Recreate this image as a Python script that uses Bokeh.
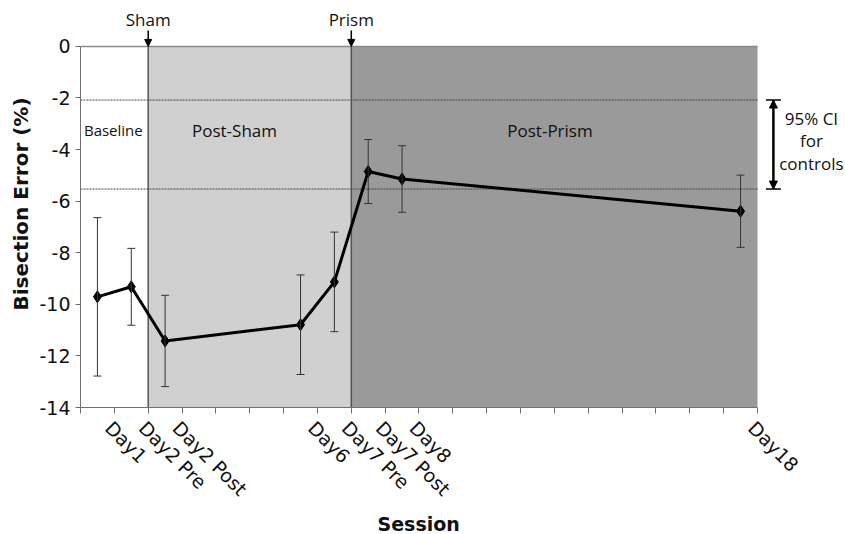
import math
from bokeh.plotting import figure
from bokeh.models import (ColumnDataSource, Whisker, TeeHead, Label, Title,
                          Arrow, NormalHead, FixedTicker, Range1d)
from bokeh.embed import file_html
from bokeh.resources import INLINE

# ---------------- data ----------------
session_labels = ["Day1", "Day2 Pre", "Day2 Post", "Day6", "Day7 Pre", "Day7 Post", "Day8", "Day18"]
session_slots = [0, 1, 2, 6, 7, 8, 9, 19]          # category slot on the session axis
n_slots = 20
bisection_mean = [-9.71, -9.32, -11.42, -10.79, -9.13, -4.85, -5.14, -6.39]
bisection_err = [3.07, 1.49, 1.77, 1.93, 1.93, 1.24, 1.29, 1.40]

phase_names = ["Baseline", "Post-Sham", "Post-Prism"]
phase_start = [0, 2, 8]
phase_end = [2, 8, 20]
intervention_names = ["Sham", "Prism"]
intervention_slot = [2, 8]
control_ci_low = -5.53
control_ci_high = -2.08
ci_text = ["95% CI", "for", "controls"]
y_min, y_max = -14, 0
y_ticks = [-14, -12, -10, -8, -6, -4, -2, 0]

# ---------------- style ----------------
phase_colors = ["#ffffff", "#d0d0d0", "#9a9a9a"]
phase_label_x = [0.97, 4.55, 13.87]
phase_label_size = ["15px", "17px", "17px"]
TICK_FONT = "DejaVu Sans"
ANN_FONT = "Open Sans"
AXIS_GREY = "#707070"
LABEL_SHIFT = 0.33      # rotated tick labels start slightly right of the slot centre

centers = [s + 0.5 for s in session_slots]
label_ticks = [c + LABEL_SHIFT for c in centers]

# frame extends past the data area so that the side/top annotations are not clipped
p = figure(width=845, height=534, x_range=Range1d(0, 22.6), y_range=Range1d(y_min, 1.78),
           output_backend="svg", toolbar_location=None,
           min_border_left=80, min_border_right=0, min_border_top=0, min_border_bottom=126)
p.grid.visible = False
p.outline_line_color = None

# phase backgrounds
p.quad(left=phase_start, right=phase_end, bottom=y_min, top=y_max, fill_color=phase_colors,
       line_color=None, level="image")
# top border of the data area
p.line([phase_start[0], phase_end[-1]], [y_max, y_max], line_color="#8a8a8a", line_width=1.5)

# intervention boundaries
p.segment(x0=intervention_slot, x1=intervention_slot, y0=y_min, y1=y_max,
          line_color="#555555", line_width=1.5)

# control CI dashed lines
p.segment(x0=[phase_start[0]] * 2, x1=[phase_end[-1]] * 2,
          y0=[control_ci_high, control_ci_low], y1=[control_ci_high, control_ci_low],
          line_color="#444444", line_width=1, line_dash="2 1")

# error bars
src = ColumnDataSource(dict(
    x=centers, y=bisection_mean,
    upper=[m + e for m, e in zip(bisection_mean, bisection_err)],
    lower=[m - e for m, e in zip(bisection_mean, bisection_err)],
))
p.add_layout(Whisker(source=src, base="x", upper="upper", lower="lower", dimension="height",
                     line_color="#333333", line_width=1, level="glyph",
                     upper_head=TeeHead(size=8, line_color="#333333", line_width=1),
                     lower_head=TeeHead(size=8, line_color="#333333", line_width=1)))

p.line("x", "y", source=src, line_color="black", line_width=3)
p.scatter("x", "y", source=src, marker="diamond", size=12, fill_color="black", line_color="black")

# x axis: labels at session slots, tick marks at slot boundaries
p.xaxis.bounds = (0, n_slots)
p.xaxis.ticker = FixedTicker(ticks=label_ticks, minor_ticks=list(range(0, n_slots + 1)))
p.xaxis.major_label_overrides = {t: lab for t, lab in zip(label_ticks, session_labels)}
p.xaxis.major_label_orientation = -math.pi / 4
p.xaxis.major_label_text_font = TICK_FONT
p.xaxis.major_label_text_font_size = "19px"
p.xaxis.major_label_text_color = "#111111"
p.xaxis.major_label_standoff = 11
p.xaxis.major_tick_line_color = None
p.xaxis.major_tick_out = 6
p.xaxis.major_tick_in = 0
p.xaxis.minor_tick_out = 6
p.xaxis.minor_tick_in = 0
p.xaxis.minor_tick_line_color = AXIS_GREY
p.xaxis.axis_line_color = AXIS_GREY

# x axis title, placed under the data area
p.add_layout(Title(text="Session", align="left", offset=297, standoff=0,
                   text_font="DejaVu Sans", text_font_style="bold", text_font_size="19px",
                   text_color="#111111"), "below")

# y axis
p.yaxis.bounds = (y_min, y_max)
p.yaxis.ticker = FixedTicker(ticks=y_ticks)
p.yaxis.major_label_overrides = {t: str(t) for t in y_ticks}
p.yaxis.major_tick_out = 5
p.yaxis.major_tick_in = 0
p.yaxis.major_tick_line_color = AXIS_GREY
p.yaxis.minor_tick_line_color = None
p.yaxis.axis_line_color = AXIS_GREY
p.yaxis.major_label_text_font = TICK_FONT
p.yaxis.major_label_text_font_size = "19px"
p.yaxis.major_label_text_color = "#111111"
p.yaxis.major_label_standoff = 5
p.yaxis.axis_label = "Bisection Error (%)"
p.yaxis.axis_label_text_font = "DejaVu Sans"
p.yaxis.axis_label_text_font_style = "bold"
p.yaxis.axis_label_text_font_size = "20px"
p.yaxis.axis_label_text_color = "#111111"
p.yaxis.axis_label_standoff = 3

# phase names
for name, xpos, fs in zip(phase_names, phase_label_x, phase_label_size):
    p.add_layout(Label(x=xpos, y=-3.25, text=name, text_align="center", text_baseline="middle",
                       text_font=ANN_FONT, text_font_size=fs, text_color="#111111"))

# intervention arrows + labels
for name, s in zip(intervention_names, intervention_slot):
    p.add_layout(Arrow(x_start=s, y_start=0.62, x_end=s, y_end=y_max, line_width=1.5,
                       line_color="black",
                       end=NormalHead(size=7, fill_color="black", line_color="black")))
    p.add_layout(Label(x=s, y=y_max, y_offset=27, text=name, text_align="center",
                       text_baseline="alphabetic", text_font=ANN_FONT, text_font_size="17px",
                       text_color="#111111"))

# 95% CI bracket
ci_x = 20.47
p.add_layout(Arrow(x_start=ci_x, y_start=control_ci_high, x_end=ci_x, y_end=control_ci_low,
                   line_width=2, line_color="black",
                   start=NormalHead(size=8, fill_color="black", line_color="black"),
                   end=NormalHead(size=8, fill_color="black", line_color="black")))
p.add_layout(Arrow(x_start=ci_x, y_start=control_ci_high, x_end=ci_x, y_end=control_ci_low,
                   line_width=2, line_color="black",
                   start=TeeHead(size=15, line_color="black", line_width=1.5),
                   end=TeeHead(size=15, line_color="black", line_width=1.5)))
for i, t in enumerate(ci_text):
    p.add_layout(Label(x=ci_x, y=-2.78 - 0.88 * i, x_offset=38, text=t, text_align="center",
                       text_baseline="middle", text_font=ANN_FONT, text_font_size="17px",
                       text_color="#111111"))

open("out.html", "w").write(file_html(p, INLINE))
